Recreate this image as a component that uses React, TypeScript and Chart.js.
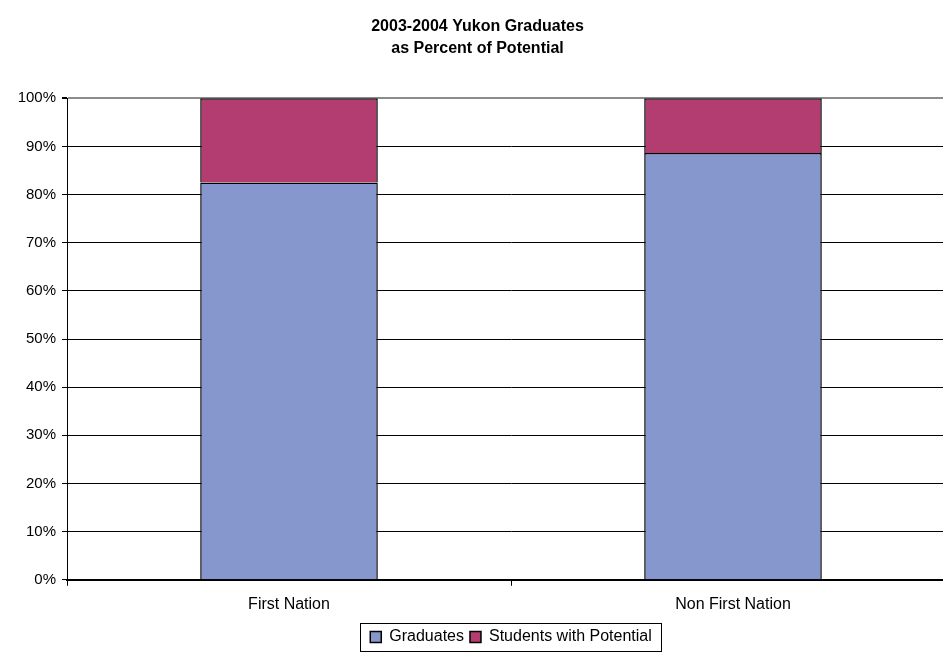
import React, { useEffect, useRef } from "react";
import { Chart, registerables } from "chart.js";

Chart.register(...registerables);

const categories = ["First Nation", "Non First Nation"];
const graduates = [82.5, 88.6];
const studentsWithPotential = [17.5, 11.4];
const yTicks = [0, 10, 20, 30, 40, 50, 60, 70, 80, 90, 100];
const titleLines = ["2003-2004 Yukon Graduates", "as Percent of Potential"];

const FONT = "'Liberation Sans', Arial, Helvetica, sans-serif";

const legendBorder = {
  id: "legendBorder",
  afterDraw(chart: any) {
    const lg = chart.legend;
    if (!lg || !lg.legendHitBoxes || !lg.legendHitBoxes.length) return;
    const boxes = lg.legendHitBoxes;
    const first = boxes[0];
    const last = boxes[boxes.length - 1];
    const ctx = chart.ctx;
    const x0 = first.left - 10;
    const x1 = last.left + last.width + 10;
    const y0 = first.top - 6;
    const y1 = first.top + first.height + 6;
    ctx.save();
    ctx.strokeStyle = "#000";
    ctx.lineWidth = 1;
    ctx.strokeRect(Math.round(x0) + 0.5, Math.round(y0) + 0.5, Math.round(x1 - x0), Math.round(y1 - y0));
    ctx.restore();
  },
};

export default function App() {
  const ref = useRef<HTMLCanvasElement | null>(null);
  useEffect(() => {
    if (!ref.current) return;
    Chart.defaults.color = "#000";
    const chart = new Chart(ref.current, {
      type: "bar",
      data: {
        labels: categories,
        datasets: [
          {
            label: "Graduates",
            data: graduates,
            backgroundColor: "#8597CC",
            borderColor: "#000",
            borderWidth: 1.5,
            categoryPercentage: 1,
            barPercentage: 0.4,
          },
          {
            label: "Students with Potential",
            data: studentsWithPotential,
            backgroundColor: "#B33C70",
            borderColor: "#000",
            borderWidth: 1.5,
            categoryPercentage: 1,
            barPercentage: 0.4,
          },
        ],
      },
      options: {
        animation: false,
        responsive: false,
        devicePixelRatio: 1,
        layout: { padding: { left: 12, right: 0, top: 0, bottom: 0 } },
        plugins: {
          title: {
            display: true,
            text: titleLines,
            fullSize: true,
            color: "#000",
            font: { family: FONT, size: 16, weight: "bold", lineHeight: 1.35 },
            padding: { top: 16, bottom: 39 },
          },
          legend: {
            display: true,
            position: "bottom",
            fullSize: false,
            labels: {
              color: "#000",
              font: { family: FONT, size: 16 },
              boxWidth: 11,
              boxHeight: 11,
              padding: 6,
            },
          },
          tooltip: { enabled: false },
        },
        scales: {
          x: {
            stacked: true,
            grid: {
              offset: true,
              drawOnChartArea: false,
              drawTicks: true,
              tickLength: 6,
              color: "#000",
            },
            border: { color: "#000", width: 2 },
            ticks: {
              color: "#000",
              font: { family: FONT, size: 16 },
              padding: 9,
            },
          },
          y: {
            stacked: true,
            min: 0,
            max: 100,
            afterBuildTicks: (s: any) => {
              s.ticks = yTicks.map((v) => ({ value: v }));
            },
            afterFit: (s: any) => {
              s.width = 67;
            },
            grid: {
              color: (c: any) => (c.tick && c.tick.value === 100 ? "#8c8c8c" : "#000"),
              lineWidth: (c: any) => (c.tick && c.tick.value === 100 ? 2 : 1),
              tickLength: 5,
              tickColor: "#000",
            },
            border: { color: "#000", width: 1 },
            ticks: {
              color: "#000",
              font: { family: FONT, size: 15 },
              padding: 6,
              callback: (v: any) => v + "%",
            },
          },
        },
      },
      plugins: [legendBorder],
    });
    return () => chart.destroy();
  }, []);
  return (
    <div
      style={{
        position: "fixed",
        left: 0,
        top: 0,
        width: 943,
        height: 655,
        overflow: "hidden",
        background: "#fff",
      }}
    >
      <canvas
        ref={ref}
        width={967}
        height={655}
        style={{ position: "absolute", left: -12, top: 0, width: 967, height: 655 }}
      />
    </div>
  );
}
